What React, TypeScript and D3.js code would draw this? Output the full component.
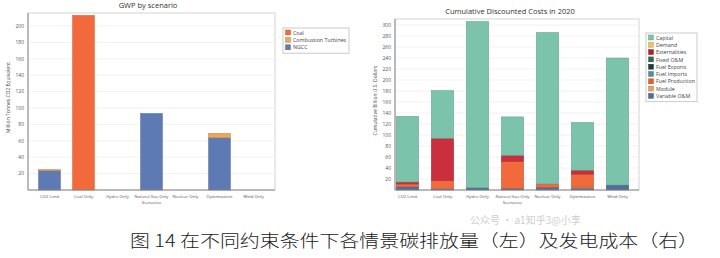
import React from "react";
import * as d3 from "d3";

const scenarios = ["CO2 Limit", "Coal Only", "Hydro Only", "Natural Gas Only", "Nuclear Only", "Optimization", "Wind Only"];

// Left chart: GWP (Million Tonnes CO2 Equivalent)
const gwpNGCC = [23.5, 0, 0, 93.3, 0, 63.7, 0];
const gwpCT = [1.5, 0, 0, 0, 0, 5.5, 0];
const gwpCoal = [0, 213, 0, 0, 0, 0, 0];
const gwpSeries = ["Coal", "Combustion Turbines", "NGCC"];
const gwpColors = ["#f26a3c", "#eaa65a", "#5d7ab5"];
const gwpTicks = [20, 40, 60, 80, 100, 120, 140, 160, 180, 200];

// Right chart: Cumulative Discounted Costs (Billion U.S. Dollars)
const costSeries = ["Capital", "Demand", "Externalities", "Fixed O&M", "Fuel Exports", "Fuel Imports", "Fuel Production", "Module", "Variable O&M"];
const costColors = ["#7bc4ab", "#e8c46a", "#b81c2c", "#2f6b52", "#1e3a4a", "#4f90a3", "#ee5a2e", "#e6a45a", "#4f6c9a"];
const barCostColors = ["#7bc4ab", "#e8c46a", "#cb2f3d", "#2f6b52", "#1e3a4a", "#4f90a3", "#f26a3c", "#c97a5a", "#4f6c9a"];
const capital = [119.5, 87, 302.5, 70, 275.5, 87, 231];
const demand = [0, 0, 0, 0, 0, 0, 0];
const externalities = [3.5, 77, 0, 11, 0, 7, 0];
const fixedOM = [0, 0, 0, 0, 0, 0, 0];
const fuelExports = [0, 0, 0, 0, 0, 0, 0];
const fuelImports = [0, 0, 0, 0, 0, 0, 0];
const fuelProduction = [5, 15, 0, 49, 6, 23, 0];
const moduleCost = [0, 0, 0, 0, 0, 3, 0];
const variableOM = [6, 2, 4, 3, 5, 3, 9];
const costTicks = [20, 40, 60, 80, 100, 120, 140, 160, 180, 200, 220, 240, 260, 280, 300];

const caption = "图 14  在不同约束条件下各情景碳排放量（左）及发电成本（右）";
const watermark = "公众号 · a1知乎3@小李";

const FONT = "'Open Sans', 'Liberation Sans', sans-serif";

type Seg = { key: string; color: string; y0: number; y1: number };

function stackSegments(valuesBottomUp: number[][], colorsBottomUp: string[], keys: string[]) {
  return scenarios.map((_, i) => {
    let acc = 0;
    const segs: Seg[] = [];
    valuesBottomUp.forEach((arr, k) => {
      const v = arr[i];
      if (v > 0) {
        segs.push({ key: keys[k], color: colorsBottomUp[k], y0: acc, y1: acc + v });
        acc += v;
      }
    });
    return segs;
  });
}

function Panel(props: {
  title: string;
  titleX: number;
  titleY: number;
  plot: { x0: number; x1: number; y0: number; y1: number };
  band: [number, number];
  yMax: number;
  ticks: number[];
  yLabel: string;
  stacks: Seg[][];
  legend: { names: string[]; colors: string[]; x: number; y: number; w: number; step: number };
}) {
  const { plot, band, yMax, ticks, stacks, legend } = props;
  const x = d3.scaleBand<string>().domain(scenarios).range(band).paddingInner(0.36).paddingOuter(0.18);
  const y = d3.scaleLinear().domain([0, yMax]).range([plot.y1, plot.y0]);
  const legH = legend.names.length * legend.step + 3;
  return (
    <g>
      <text x={props.titleX} y={props.titleY} fontSize={7.5} textAnchor="middle" fill="#333" fontFamily={FONT}>
        {props.title}
      </text>
      <rect x={plot.x0} y={plot.y0} width={plot.x1 - plot.x0} height={plot.y1 - plot.y0} fill="#fff" stroke="#c8c8c8" strokeWidth={0.8} />
      {ticks.map((t) => (
        <g key={t}>
          <line x1={plot.x0} x2={plot.x1} y1={y(t)} y2={y(t)} stroke="#ececec" strokeWidth={0.7} />
          <text x={plot.x0 - 4} y={y(t) + 1.7} fontSize={5} textAnchor="end" fill="#555" fontFamily={FONT}>
            {t}
          </text>
        </g>
      ))}
      {stacks.map((segs, i) =>
        segs.map((s) => (
          <rect
            key={scenarios[i] + s.key}
            x={x(scenarios[i])!}
            width={x.bandwidth()}
            y={y(s.y1)}
            height={y(s.y0) - y(s.y1)}
            fill={s.color}
            stroke={d3.color(s.color)!.darker(0.6).formatHex()}
            strokeWidth={0.5}
          />
        ))
      )}
      <line x1={plot.x0} x2={plot.x0} y1={plot.y0} y2={plot.y1} stroke="#8a8a8a" strokeWidth={1} />
      <line x1={plot.x0} x2={plot.x1} y1={plot.y1} y2={plot.y1} stroke="#8a8a8a" strokeWidth={1} />
      {scenarios.map((s) => (
        <text key={s} x={x(s)! + x.bandwidth() / 2} y={plot.y1 + 7.5} fontSize={4.3} textAnchor="middle" fill="#555" fontFamily={FONT}>
          {s}
        </text>
      ))}
      <text x={(band[0] + band[1]) / 2} y={plot.y1 + 13.5} fontSize={4.3} textAnchor="middle" fill="#555" fontFamily={FONT}>
        Scenarios
      </text>
      <text
        transform={`translate(${plot.x0 - 18.5},${(plot.y0 + plot.y1) / 2 - 4}) rotate(-90)`}
        fontSize={5}
        textAnchor="middle"
        fill="#444"
        fontFamily={FONT}
      >
        {props.yLabel}
      </text>
      <rect x={legend.x} y={legend.y} width={legend.w} height={legH} fill="#fff" stroke="#bdbdbd" strokeWidth={0.8} />
      {legend.names.map((n, i) => (
        <g key={n}>
          <rect
            x={legend.x + 2.5}
            y={legend.y + 2 + i * legend.step}
            width={5}
            height={5}
            fill={legend.colors[i]}
            stroke={d3.color(legend.colors[i])!.darker(0.8).formatHex()}
            strokeWidth={0.4}
          />
          <text x={legend.x + 10} y={legend.y + 6.6 + i * legend.step} fontSize={5.3} fill="#444" fontFamily={FONT}>
            {n}
          </text>
        </g>
      ))}
    </g>
  );
}

export default function App() {
  const gwpStacks = stackSegments([gwpNGCC, gwpCT, gwpCoal], [gwpColors[2], gwpColors[1], gwpColors[0]], ["NGCC", "CT", "Coal"]);
  const costBottomUp = [variableOM, moduleCost, fuelProduction, fuelImports, fuelExports, fixedOM, externalities, demand, capital];
  const costStacks = stackSegments(costBottomUp, [...barCostColors].reverse(), [...costSeries].reverse());
  return (
    <svg width={720} height={258} style={{ position: "absolute", left: 0, top: 0, background: "#fff" }}>
      <rect x={0} y={0} width={720} height={258} fill="#fff" />
      <Panel
        title="GWP by scenario"
        titleX={148}
        titleY={8}
        plot={{ x0: 28, x1: 275, y0: 13, y1: 190 }}
        band={[32.5, 270.5]}
        yMax={216}
        ticks={gwpTicks}
        yLabel="Million Tonnes CO2 Equivalent"
        stacks={gwpStacks}
        legend={{ names: gwpSeries, colors: gwpColors, x: 283, y: 28, w: 66, step: 7.4 }}
      />
      <Panel
        title="Cumulative Discounted Costs in 2020"
        titleX={510}
        titleY={14}
        plot={{ x0: 395, x1: 639, y0: 19, y1: 190 }}
        band={[390, 635]}
        yMax={311}
        ticks={costTicks}
        yLabel="Cumulative Billion U.S. Dollars"
        stacks={costStacks}
        legend={{ names: costSeries, colors: costColors, x: 646, y: 33, w: 51, step: 7.3 }}
      />
      <text x={130} y={247} fontSize={17} fontWeight={300} fill="#1a1a1a" fontFamily="'Noto Sans CJK SC', sans-serif" textLength={568} lengthAdjust="spacingAndGlyphs">
        {caption}
      </text>
      <text x={470} y={224} fontSize={10} fill="#c4c4c4" opacity={0.8} fontFamily="'Noto Sans CJK SC', sans-serif">
        {watermark}
      </text>
    </svg>
  );
}
